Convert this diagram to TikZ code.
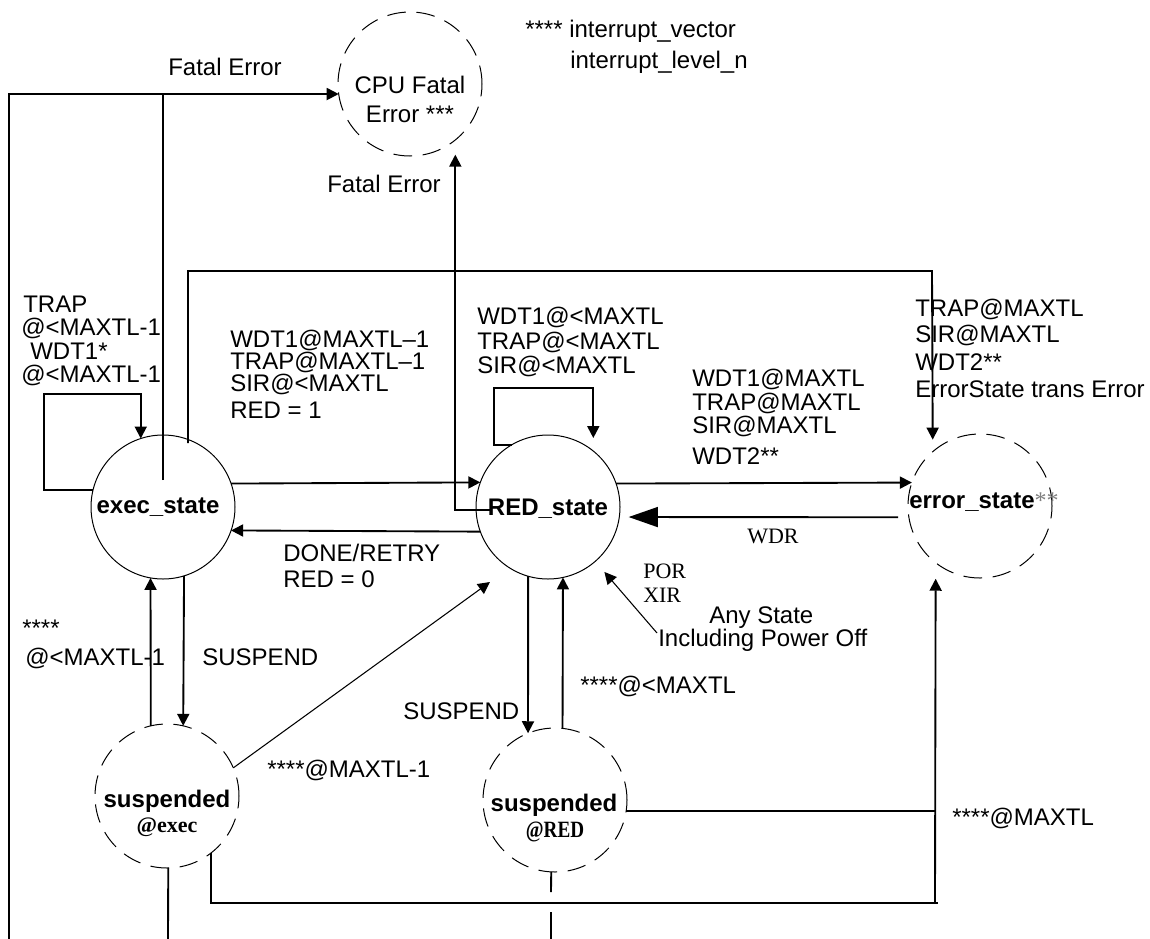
\documentclass[tikz,border=0pt]{standalone}
\usepackage{fontspec}
\setmainfont{Liberation Sans}
\newfontfamily\seriffont{Liberation Serif}
\usepackage{graphicx}
\usetikzlibrary{arrows.meta}
\tikzset{
  st/.style={circle, draw, line width=0.75pt, minimum size=108pt, inner sep=0pt, outer sep=0pt},
  dst/.style={st, dash pattern=on 14pt off 8pt},
  conn/.style={line width=1.4pt},
  arr/.style={conn, -{Triangle[length=9pt,width=9pt]}},
  bigarr/.style={conn, -{Triangle[length=22pt,width=15pt]}},
  thinarr/.style={line width=0.8pt, -{Triangle[length=9pt,width=9pt]}},
  lab/.style={inner sep=0pt, anchor=base west, text depth=1pt, font=\fontsize{18}{20}\selectfont},
  clab/.style={lab, anchor=base},
  slab/.style={inner sep=0pt, anchor=base west, font=\fontsize{16.5}{18}\seriffont},
}
\begin{document}
\begin{tikzpicture}[x=0.75pt,y=-0.75pt]
\useasboundingbox (0,0) rectangle (1150,939);
% states
\node[st]  (exec) at (163,507) {};
\node[st]  (red)  at (548,507) {};
\node[dst] (err)  at (980,506) {};
\node[dst] (cpu)  at (410,84)  {};
\node[dst] (se)   at (167,796) {};
\node[dst] (sr)   at (555,800) {};
% free ends and corners
\coordinate (bl) at (9,939);
\coordinate (fe) at (163,480);
\coordinate (fr) at (490,510);
\coordinate (br) at (188,443);
\coordinate (rc) at (932,271);
\coordinate (tl) at (44,394);
\coordinate (rl) at (494,388);
\coordinate (dt) at (490,582);
\coordinate (pt) at (657,633);
\coordinate (vb) at (935,903);
\coordinate (lr) at (938,903);
\coordinate (b1) at (168,939);
\coordinate (b2a) at (551,892);
\coordinate (b2b) at (551,912);
\coordinate (b2c) at (551,939);
% connectors
\draw[arr] (bl) |- (cpu.188.78);
\draw[conn] (fe) -- (fe |- cpu.188.78);
\draw[arr, shorten >=11pt] (fr) -| (cpu.-51.3);
\draw[arr, shorten >=9pt] (br) |- (rc) -- (err.131.8);
\draw[arr] (exec.166.4) -| (tl) -| (exec.108.6);
\draw[arr, shorten >=9.75pt] (red.120) -| (rl) -| (red.51.3);
\draw[arr] (exec.19.47) -- (red.160.53);
\draw[arr] (red.-160.53) -- (exec.-19.47);
\draw[arr] (red.19.47) -- (err.161.37);
\draw[bigarr, shorten <=8pt, shorten >=7pt] (err.189.59) -- (red.-8.79);
\draw[arr] (exec.-73.9) -- (se.77.2);
\draw[arr] (se.103.7) -- (exec.-100.4);
\draw[thinarr] (se.23.7) -- (dt);
\draw[arr] (red.-106.95) -- (sr.112.9);
\draw[arr] (sr.84.4) -- (red.-78.8);
\draw[thinarr, shorten >=10.5pt] (pt) -- (red.-49.3);
\draw[conn] (sr.-9.59) -- (sr.-9.59 -| vb);
\draw[arr, shorten >=12pt] (vb) -- (err.-128.7);
\draw[conn] (se.-52.3) |- (lr);
\draw[conn] (se.-89.2) -- (b1);
\draw[conn] (sr.-93.2) -- (b2a);
\draw[conn] (b2b) -- (b2c);
% state texts
\node[clab] (cpuA) at (410,93) {CPU Fatal};
\node[clab] (cpuB) at (410,122) {Error ***};
\node[clab, font=\fontsize{18}{20}\selectfont\bfseries] (execT) at (158,513) {exec\_state};
\node[clab, font=\fontsize{18}{20}\selectfont\bfseries] (redT) at (548,515) {RED\_state};
\node[lab, font=\fontsize{18}{20}\selectfont\bfseries] (errT) at (909,508) {error\_state{\seriffont\mdseries\color{gray}**}};
\node[clab, font=\fontsize{18}{20}\selectfont\bfseries] (seA) at (167,807) {suspended};
\node[clab, font=\fontsize{16.5}{18}\seriffont\bfseries] (seB) at (167,832) {@exec};
\node[clab, font=\fontsize{18}{20}\selectfont\bfseries] (srA) at (554,811) {suspended};
\node[clab, font=\fontsize{17.5}{18}\seriffont\bfseries] (srB) at (555,837) {\scalebox{0.82}[1]{@RED}};
% labels
\node[lab] (l1) at (168,75) {Fatal Error};
\node[lab] (l2) at (327,192) {Fatal Error};
\node[lab] (l3) at (525,37) {**** interrupt\_vector};
\node[lab] (l4) at (570,68) {interrupt\_level\_n};
\node[lab] (t1) at (23,312) {TRAP};
\node[lab] (t2) at (21,335) {@<MAXTL-1};
\node[lab] (t3) at (30,359) {WDT1*};
\node[lab] (t4) at (21,382) {@<MAXTL-1};
\node[lab] (w1) at (230,347) {WDT1@MAXTL–1};
\node[lab] (w2) at (230,369) {TRAP@MAXTL–1};
\node[lab] (w3) at (230,391) {SIR@<MAXTL};
\node[lab] (w4) at (230,418) {RED = 1};
\node[lab] (r1) at (477,324) {WDT1@<MAXTL};
\node[lab] (r2) at (477,349) {TRAP@<MAXTL};
\node[lab] (r3) at (477,373) {SIR@<MAXTL};
\node[lab] (m1) at (692,386) {WDT1@MAXTL};
\node[lab] (m2) at (692,410) {TRAP@MAXTL};
\node[lab] (m3) at (692,433) {SIR@MAXTL};
\node[lab] (m4) at (692,464) {WDT2**};
\node[lab] (e1) at (915,316) {TRAP@MAXTL};
\node[lab] (e2) at (915,342) {SIR@MAXTL};
\node[lab] (e3) at (915,370) {WDT2**};
\node[lab] (e4) at (915,397) {ErrorState trans Error};
\node[lab] (d1) at (283,561) {DONE/RETRY};
\node[lab] (d2) at (283,587) {RED = 0};
\node[slab] (wdr) at (747,543) {WDR};
\node[slab] (por) at (643,578) {POR};
\node[slab] (xir) at (643,602) {XIR};
\node[lab] (an1) at (709,623) {Any State};
\node[lab] (an2) at (658,646) {Including Power Off};
\node[lab] (s1) at (22,636) {****};
\node[lab] (s2) at (25,665) {@<MAXTL-1};
\node[lab] (s3) at (202,665) {SUSPEND};
\node[lab] (s4) at (267,777) {****@MAXTL-1};
\node[lab] (s5) at (403,719) {SUSPEND};
\node[lab] (s6) at (580,693) {****@<MAXTL};
\node[lab] (s7) at (952,825) {****@MAXTL};
\end{tikzpicture}
\end{document}
